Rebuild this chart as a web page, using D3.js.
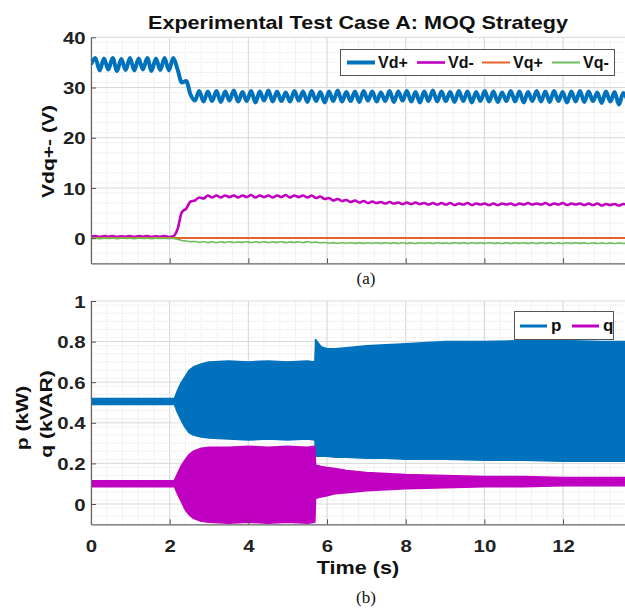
<!DOCTYPE html>
<html>
<head>
<meta charset="utf-8">
<script src="https://cdn.jsdelivr.net/npm/d3@7"></script>
<style>
  html, body { margin: 0; padding: 0; background: #fff; }
  svg { display: block; }
</style>
</head>
<body>
<svg id="chart" width="625" height="613"></svg>
<script>
// ---------------- DATA ----------------
const sampleStep = 0.11; // seconds between samples of the (a) traces

const vdPlus = [
  34.6,35.9,33.4,35.8,33.6,35.9,33.3,35.7,33.5,35.9,
  33.4,35.8,33.6,35.9,33.3,35.8,33.5,35.9,33.4,35.9,
  33.6,31.0,31.3,28.6,27.4,29.3,27.2,29.2,27.3,29.3,
  27.1,29.2,27.4,29.4,27.2,29.1,27.3,29.3,27.0,29.2,
  27.4,29.4,27.2,29.2,27.3,29.0,27.2,29.3,27.4,29.2,
  27.1,29.3,27.3,29.1,27.0,29.2,27.3,29.4,27.2,29.1,
  27.3,29.2,27.1,29.3,27.4,29.2,27.2,29.0,27.3,29.3,
  27.1,29.2,27.4,29.3,27.2,29.1,27.0,29.2,27.3,29.4,
  27.2,29.2,27.3,29.1,27.1,29.3,27.3,29.2,27.0,29.1,
  27.3,29.3,27.2,29.2,27.1,29.0,27.3,29.3,27.2,29.2,
  27.0,29.1,27.3,29.3,27.2,29.2,27.1,29.3,27.3,29.1,
  27.0,29.2,27.2,29.3,27.1,29.2,27.3,29.0,26.9,29.2,
  27.2,29.1,26.6,28.9,27.4
];

const vdMinus = [
  0.30,0.45,0.25,0.45,0.30,0.45,0.25,0.40,0.30,0.45,
  0.25,0.45,0.30,0.45,0.25,0.40,0.30,0.45,0.25,0.40,
  1.8,5.2,5.9,7.3,7.5,8.1,7.9,8.5,8.1,8.5,
  8.1,8.5,8.2,8.5,8.1,8.5,8.2,8.6,8.1,8.5,
  8.2,8.5,8.1,8.5,8.2,8.6,8.1,8.5,8.2,8.5,
  8.1,8.5,8.0,8.3,7.8,8.0,7.5,7.8,7.4,7.6,
  7.2,7.5,7.1,7.4,7.0,7.3,7.0,7.2,6.9,7.2,
  6.9,7.1,6.8,7.1,6.8,7.1,6.8,7.0,6.7,7.0,
  6.7,7.0,6.7,7.0,6.6,6.9,6.7,7.0,6.6,6.9,
  6.7,6.9,6.6,6.9,6.6,6.9,6.7,6.9,6.6,6.9,
  6.7,7.0,6.7,6.9,6.7,7.0,6.6,6.9,6.7,7.0,
  6.6,6.9,6.7,6.9,6.6,6.9,6.6,6.9,6.5,6.8,
  6.6,6.8,6.5,6.8,6.6
];

const vqMinus = [
  -0.05,0.00,-0.08,0.00,-0.06,-0.02,-0.08,0.00,-0.05,-0.02,
  -0.08,0.00,-0.05,-0.02,-0.08,0.00,-0.06,-0.02,-0.08,-0.03,
  -0.20,-0.45,-0.55,-0.70,-0.65,-0.80,-0.70,-0.85,-0.72,-0.86,
  -0.72,-0.85,-0.70,-0.86,-0.73,-0.84,-0.70,-0.86,-0.72,-0.85,
  -0.70,-0.86,-0.72,-0.84,-0.70,-0.86,-0.73,-0.85,-0.72,-0.86,
  -0.70,-0.85,-0.78,-0.92,-0.85,-1.00,-0.88,-1.02,-0.90,-1.02,
  -0.90,-1.04,-0.92,-1.05,-0.90,-1.03,-0.92,-1.05,-0.91,-1.04,
  -0.92,-1.05,-0.90,-1.04,-0.92,-1.06,-0.91,-1.04,-0.92,-1.05,
  -0.91,-1.04,-0.92,-1.06,-0.90,-1.04,-0.92,-1.05,-0.91,-1.04,
  -0.92,-1.05,-0.90,-1.04,-0.93,-1.06,-0.91,-1.05,-0.92,-1.04,
  -0.91,-1.05,-0.92,-1.06,-0.90,-1.04,-0.92,-1.05,-0.93,-1.06,
  -0.91,-1.05,-0.92,-1.04,-0.93,-1.06,-0.92,-1.05,-0.94,-1.07,
  -0.93,-1.06,-0.94,-1.07,-0.95
];

const vqPlusTime = [0, 13.6];
const vqPlus = [0.05, 0.05];

// (b) envelopes of the fast oscillating p and q traces
const pqTime = [0, 2.12, 2.2, 2.3, 2.4, 2.5, 2.6, 2.8, 3.0, 3.5, 4.0, 4.5, 5.0, 5.5, 5.69,
                5.71, 5.75, 5.85, 6.0, 6.2, 6.5, 7.0, 7.5, 8.0, 9.0, 10.0, 11.0, 12.0, 13.0, 13.6];
const pHigh = [0.52,0.52,0.56,0.60,0.63,0.66,0.675,0.69,0.70,0.705,0.70,0.705,0.70,0.705,0.70,
               0.81,0.80,0.775,0.765,0.765,0.77,0.78,0.785,0.79,0.80,0.80,0.805,0.805,0.80,0.80];
const pLow  = [0.49,0.49,0.45,0.41,0.375,0.35,0.34,0.33,0.325,0.32,0.315,0.32,0.315,0.32,0.315,
               0.24,0.235,0.235,0.235,0.23,0.23,0.225,0.225,0.22,0.22,0.215,0.215,0.21,0.21,0.21];
const qHigh = [0.115,0.115,0.15,0.19,0.22,0.245,0.26,0.275,0.28,0.28,0.285,0.28,0.285,0.28,0.285,
               0.19,0.19,0.185,0.18,0.175,0.165,0.155,0.15,0.145,0.14,0.135,0.135,0.13,0.13,0.13];
const qLow  = [0.085,0.085,0.05,0.01,-0.03,-0.055,-0.07,-0.085,-0.09,-0.095,-0.09,-0.095,-0.09,-0.095,-0.09,
               0.03,0.03,0.035,0.04,0.05,0.055,0.065,0.07,0.075,0.08,0.085,0.085,0.09,0.09,0.09];

const xTicks = [0, 2, 4, 6, 8, 10, 12];
const yTicksA = [0, 10, 20, 30, 40];
const yTicksB = [0, 0.2, 0.4, 0.6, 0.8, 1];
const yTickLabelsB = ["0", "0.2", "0.4", "0.6", "0.8", "1"];

const legendA = ["Vd+", "Vd-", "Vq+", "Vq-"];
const legendB = ["p", "q"];

// ---------------- STYLE ----------------
const SANS = "'Liberation Sans', Arial, Helvetica, sans-serif";
const SERIF = "'Liberation Serif', 'Times New Roman', serif";
const STRETCH = 1.2;
const C = { blue: "#0072BD", magenta: "#C000C0", orange: "#E3632A", green: "#6DBE5A" };
const svg = d3.select("#chart");
const left = 91, right = 626;

const x = d3.scaleLinear().domain([0, 13.6]).range([left, right]);
const yA = d3.scaleLinear().domain([-5, 40]).range([263.3, 37.3]);
const yB = d3.scaleLinear().domain([-0.1, 1]).range([524.3, 301]);

const time = vdPlus.map((_, i) => +(i * sampleStep).toFixed(2));

function label(str, tx, ty, opts) {
  const o = Object.assign({ size: 18, weight: "bold", rot: 0, sx: STRETCH, family: SANS, anchor: "middle" }, opts || {});
  return svg.append("text")
    .attr("transform", `translate(${tx},${ty}) rotate(${o.rot}) scale(${o.sx},1)`)
    .attr("text-anchor", o.anchor)
    .style("font-family", o.family).style("font-size", o.size + "px").style("font-weight", o.weight)
    .attr("fill", "#111").text(str);
}

function drawGrid(g, y, yDomain, yMinorStep, yMajor) {
  const [y0, y1] = yDomain;
  const xMinor = d3.range(0, 13.61, 0.4);
  const yMinor = d3.range(y0, y1 + 1e-9, yMinorStep);
  g.append("g").selectAll("line").data(xMinor).join("line")
    .attr("x1", d => x(d)).attr("x2", d => x(d))
    .attr("y1", y(y0)).attr("y2", y(y1))
    .attr("stroke", "#e6e6e6").attr("stroke-width", 1).attr("stroke-dasharray", "1,1");
  g.append("g").selectAll("line").data(yMinor).join("line")
    .attr("x1", left).attr("x2", right)
    .attr("y1", d => y(d)).attr("y2", d => y(d))
    .attr("stroke", "#e6e6e6").attr("stroke-width", 1).attr("stroke-dasharray", "1,1");
  g.append("g").selectAll("line").data(xTicks).join("line")
    .attr("x1", d => x(d)).attr("x2", d => x(d))
    .attr("y1", y(y0)).attr("y2", y(y1))
    .attr("stroke", "#d9d9d9").attr("stroke-width", 1);
  g.append("g").selectAll("line").data(yMajor).join("line")
    .attr("x1", left).attr("x2", right)
    .attr("y1", d => y(d)).attr("y2", d => y(d))
    .attr("stroke", "#d9d9d9").attr("stroke-width", 1);
}

function drawAxes(g, y, yTicks, yFmt, showXLabels) {
  const ax = d3.axisBottom(x).tickValues(xTicks).tickSizeInner(-5).tickSizeOuter(0)
    .tickFormat(showXLabels ? d3.format("d") : () => "");
  const gx = g.append("g").attr("transform", `translate(0,${y.range()[0]})`).call(ax);
  gx.select(".domain").attr("stroke", "#666").attr("stroke-width", 1.2);
  gx.selectAll(".tick line").attr("stroke", "#555");
  gx.selectAll(".tick text").attr("y", 28).attr("dy", 0)
    .attr("transform", `scale(${STRETCH},1)`)
    .style("font-size", "17px").style("font-weight", "bold").style("font-family", SANS)
    .attr("fill", "#222");

  const ay = d3.axisLeft(y).tickValues(yTicks).tickSizeInner(-5).tickSizeOuter(0).tickFormat(yFmt);
  const gy = g.append("g").attr("transform", `translate(${left},0)`).call(ay);
  gy.select(".domain").attr("stroke", "#666").attr("stroke-width", 1.2);
  gy.selectAll(".tick line").attr("stroke", "#555");
  gy.selectAll(".tick text").attr("x", -4.5).attr("dy", "0.36em")
    .attr("transform", `scale(${STRETCH},1)`)
    .style("font-size", "17px").style("font-weight", "bold").style("font-family", SANS)
    .attr("fill", "#222");
}

const defs = svg.append("defs");
defs.append("clipPath").attr("id", "clipA").append("rect")
  .attr("x", left).attr("y", 30).attr("width", right - left).attr("height", 263.3 - 30);
defs.append("clipPath").attr("id", "clipB").append("rect")
  .attr("x", left).attr("y", 295).attr("width", right - left).attr("height", 524.3 - 295);

// ---------------- PANEL (a) ----------------
const gA = svg.append("g");
drawGrid(gA, yA, [-5, 40], 2, yTicksA);

const lineA = d3.line().x(d => x(d[0])).y(d => yA(d[1])).curve(d3.curveMonotoneX);
const plotA = gA.append("g").attr("clip-path", "url(#clipA)");
const seriesA = [
  { data: time.map((t, i) => [t, vdPlus[i]]), color: C.blue, w: 4 },
  { data: time.map((t, i) => [t, vdMinus[i]]), color: C.magenta, w: 2.6 },
  { data: vqPlusTime.map((t, i) => [t, vqPlus[i]]), color: C.orange, w: 2 },
  { data: time.map((t, i) => [t, vqMinus[i]]), color: C.green, w: 1.6 }
];
plotA.selectAll("path").data(seriesA).join("path")
  .attr("d", d => lineA(d.data)).attr("fill", "none")
  .attr("stroke", d => d.color).attr("stroke-width", d => d.w)
  .attr("stroke-linejoin", "round");

drawAxes(gA, yA, yTicksA, d3.format("d"), false);

// legend (a)
const lgA = gA.append("g");
lgA.append("rect").attr("x", 340.5).attr("y", 49.5).attr("width", 274).attr("height", 26)
  .attr("fill", "#fff").attr("stroke", "#555").attr("stroke-width", 1);
const legAx = [347, 417, 482, 552];
legendA.forEach((name, i) => {
  lgA.append("line").attr("x1", legAx[i]).attr("x2", legAx[i] + 28).attr("y1", 62.5).attr("y2", 62.5)
    .attr("stroke", seriesA[i].color).attr("stroke-width", Math.max(2, seriesA[i].w));
  lgA.append("text").attr("x", legAx[i] + 31).attr("y", 62.5).attr("dy", "0.36em")
    .style("font-size", "16px").style("font-weight", "bold").style("font-family", SANS)
    .attr("fill", "#111").text(name);
});

// ---------------- PANEL (b) ----------------
const gB = svg.append("g");
drawGrid(gB, yB, [-0.1, 1], 0.04, yTicksB);
const plotB = gB.append("g").attr("clip-path", "url(#clipB)");
const areaB = (hi, lo) => d3.area().x((d, i) => x(pqTime[i]))
  .y0((d, i) => yB(lo[i])).y1((d, i) => yB(hi[i])).curve(d3.curveLinear)(pqTime);
plotB.append("path").attr("d", areaB(pHigh, pLow)).attr("fill", C.blue)
  .attr("stroke", C.blue).attr("stroke-width", 1.5).attr("stroke-linejoin", "round");
plotB.append("path").attr("d", areaB(qHigh, qLow)).attr("fill", C.magenta)
  .attr("stroke", C.magenta).attr("stroke-width", 1.5).attr("stroke-linejoin", "round");

drawAxes(gB, yB, yTicksB, (d, i) => yTickLabelsB[i], true);

const lgB = gB.append("g");
lgB.append("rect").attr("x", 514.5).attr("y", 311.5).attr("width", 99).attr("height", 28)
  .attr("fill", "#fff").attr("stroke", "#555").attr("stroke-width", 1);
const legBx = [520, 572];
const legBcol = [C.blue, C.magenta];
legendB.forEach((name, i) => {
  lgB.append("line").attr("x1", legBx[i]).attr("x2", legBx[i] + 27).attr("y1", 326).attr("y2", 326)
    .attr("stroke", legBcol[i]).attr("stroke-width", 3);
  lgB.append("text").attr("x", legBx[i] + 31).attr("y", 326).attr("dy", "0.32em")
    .style("font-size", "17px").style("font-weight", "bold").style("font-family", SANS)
    .attr("fill", "#111").text(name);
});

// ---------------- TEXT ----------------
label("Experimental Test Case A: MOQ Strategy", 358, 29);
label("Vdq+- (V)", 54, 151.5, { rot: -90, size: 17, sx: 1.24 });
label("p (kW)", 28, 418, { rot: -90, size: 17, sx: 1.24 });
label("q (kVAR)", 52, 414, { rot: -90, size: 17, sx: 1.24 });
label("Time (s)", 358, 574);
label("(a)", 366, 284, { size: 17, weight: "normal", family: SERIF, sx: 1 });
label("(b)", 366, 603, { size: 17, weight: "normal", family: SERIF, sx: 1 });
</script>
</body>
</html>
